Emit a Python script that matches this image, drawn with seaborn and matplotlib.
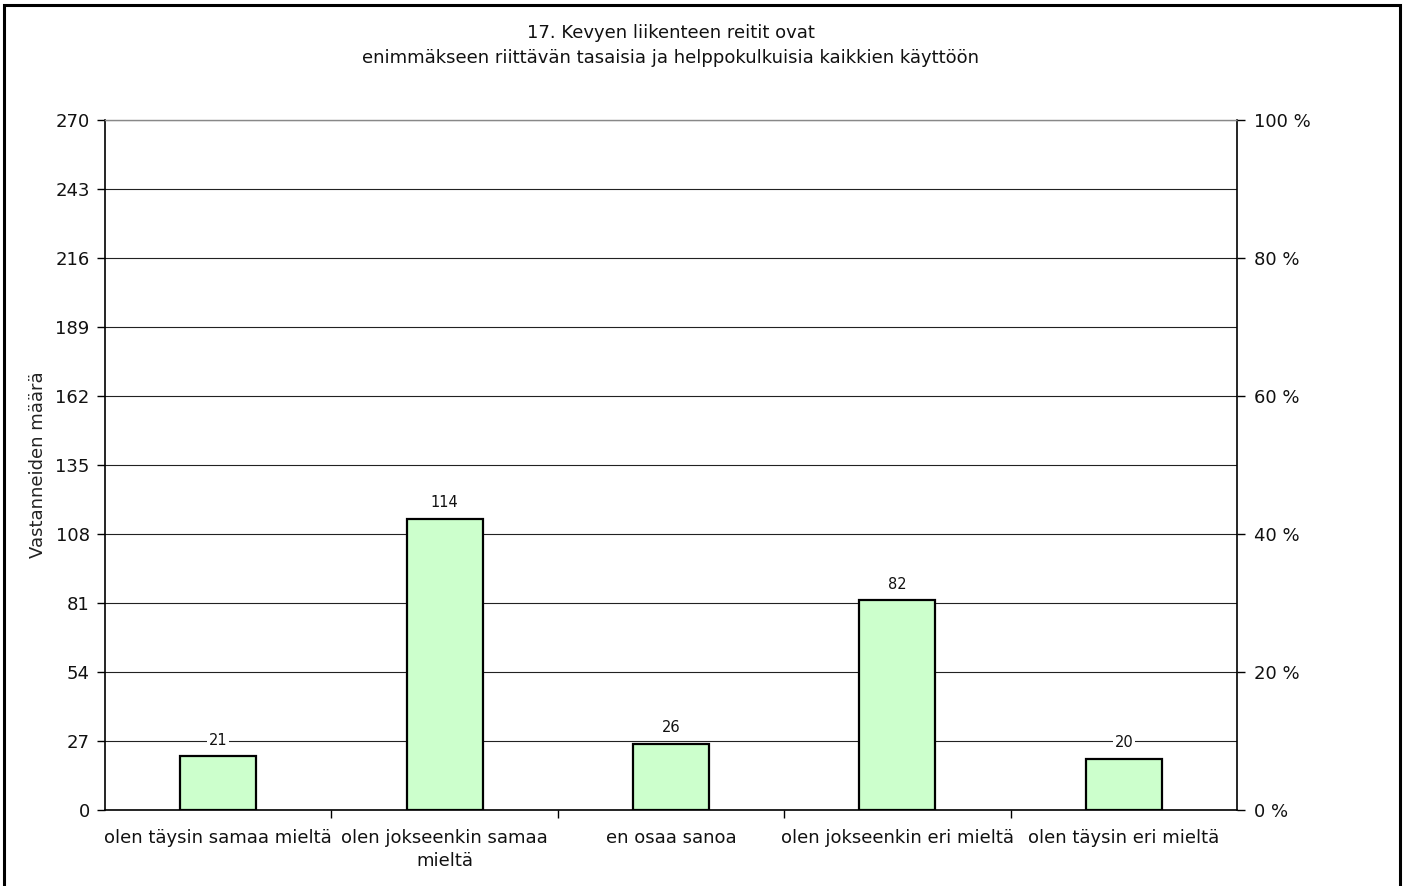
import matplotlib
matplotlib.use("Agg")
import matplotlib.pyplot as plt
import seaborn as sns
import pandas as pd
from matplotlib.patches import Rectangle

categories = ["olen täysin samaa mieltä", "olen jokseenkin samaa\nmieltä", "en osaa sanoa",
              "olen jokseenkin eri mieltä", "olen täysin eri mieltä"]
values = [21, 114, 26, 82, 20]
left_ticks = [0, 27, 54, 81, 108, 135, 162, 189, 216, 243, 270]
right_ticks = [0, 20, 40, 60, 80, 100]
title_lines = ["17. Kevyen liikenteen reitit ovat",
               "enimmäkseen riittävän tasaisia ja helppokulkuisia kaikkien käyttöön"]
ylabel = "Vastanneiden määrä"

sns.set_theme(style="white")
plt.rcParams['font.family'] = ['DejaVu Sans']

FS = 13
df = pd.DataFrame({"cat": categories, "val": values})

fig = plt.figure(figsize=(14.08, 8.86), dpi=100)
ax = fig.add_axes([105/1408, 76/886, 1132/1408, 690/886])

sns.barplot(data=df, x="cat", y="val", ax=ax, color="#CCFFCC", edgecolor="black",
            linewidth=1.6, width=0.336, saturation=1)

ax.set_ylim(0, 270)
ax.set_xlim(-0.5, len(categories) - 0.5)
ax.set_yticks(left_ticks)
ax.set_yticklabels([str(t) for t in left_ticks], fontsize=FS, color="#111111")
ax.yaxis.grid(True, color="#222222", linewidth=0.8)
ax.set_axisbelow(True)
ax.tick_params(axis="y", which="major", direction="out", length=6, width=1, color="black", left=True, pad=5)

ax.set_xticks(range(len(categories)))
ax.set_xticklabels(categories, fontsize=FS, color="#111111", linespacing=1.3)
ax.tick_params(axis="x", which="major", length=0, pad=14)
ax.set_xticks([i + 0.5 for i in range(len(categories) - 1)], minor=True)
ax.tick_params(axis="x", which="minor", direction="out", length=6, width=1, color="black", bottom=True)
ax.set_xlabel("")
ax.set_ylabel(ylabel, fontsize=FS, color="#222222", labelpad=6)

for s in ["left", "bottom", "right"]:
    ax.spines[s].set_visible(True)
    ax.spines[s].set_color("black")
    ax.spines[s].set_linewidth(1.2)
ax.spines["top"].set_visible(True)
ax.spines["top"].set_color("#888888")
ax.spines["top"].set_linewidth(1)

for i, v in enumerate(values):
    ax.annotate(str(v), (i, v), xytext=(0, 11.5), textcoords="offset points",
                ha="center", va="center", fontsize=10.5, color="#111111",
                bbox=dict(facecolor="white", edgecolor="none", pad=1))

ax2 = ax.twinx()
ax2.set_ylim(0, 100)
ax2.set_yticks(right_ticks)
ax2.set_yticklabels([f"{t} %" for t in right_ticks], fontsize=FS, color="#111111")
ax2.tick_params(axis="y", direction="out", length=6, width=1, color="black", right=True, pad=6)
ax2.grid(False)
for s in ax2.spines.values():
    s.set_visible(False)

fig.text(671/1408, 1 - 33/886, title_lines[0], ha="center", va="center", fontsize=FS, color="#111111")
fig.text(671/1408, 1 - 58/886, title_lines[1], ha="center", va="center", fontsize=FS, color="#111111")

fig.patches.append(Rectangle((4/1408, -0.02), 1396/1408, 1 + 0.02 - 5/886, transform=fig.transFigure,
                             fill=False, edgecolor="black", linewidth=2.2))

fig.savefig("out.png", dpi=100)
